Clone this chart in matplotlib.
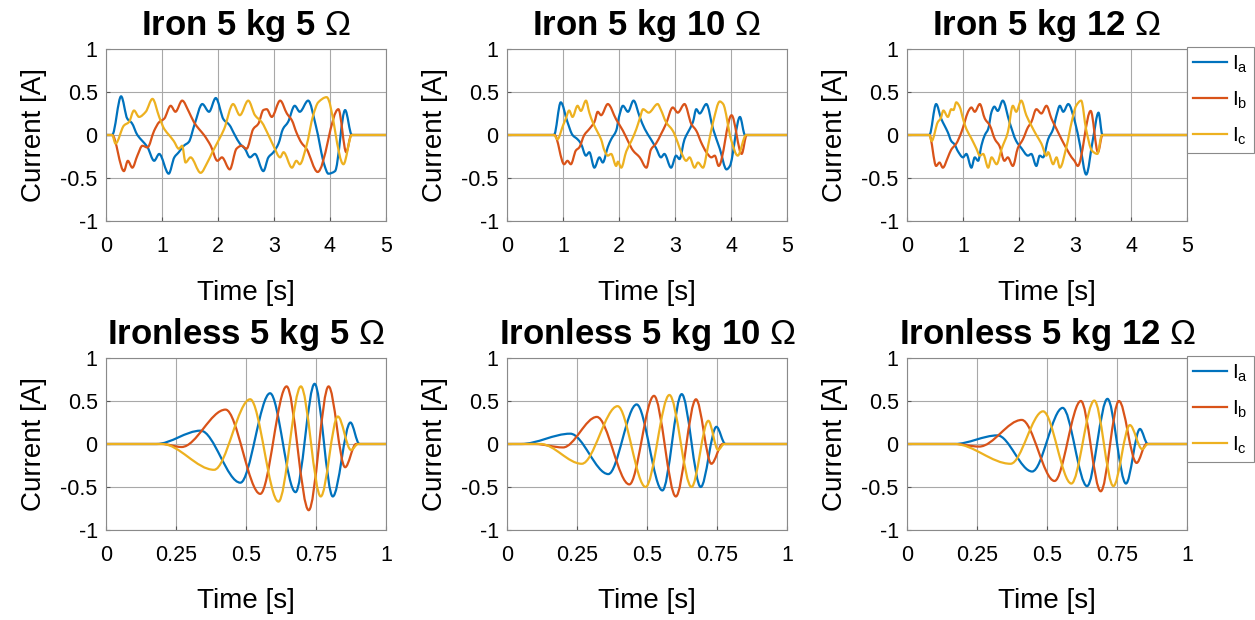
import numpy as np
import matplotlib
matplotlib.use('Agg')
import matplotlib.pyplot as plt
from matplotlib.path import Path
from matplotlib.patches import PathPatch
from matplotlib.lines import Line2D

plt.rcParams['font.family'] = ['Liberation Sans', 'DejaVu Sans']
plt.rcParams['mathtext.fontset'] = 'custom'
plt.rcParams['mathtext.rm'] = 'Liberation Sans'
plt.rcParams['mathtext.it'] = 'Liberation Sans:italic'

# ---- phase currents, iron-core machine (time in s, current in A) ----
t_fe5_a = [0, 0.11, 0.27, 0.38, 0.46, 0.56, 0.65, 0.74, 0.86, 0.95, 1.12, 1.22, 1.30, 1.39, 1.48, 1.58, 1.72, 1.84, 1.96, 2.10, 2.20, 2.30, 2.39, 2.48, 2.57, 2.66, 2.81, 2.90, 2.99, 3.08, 3.16, 3.25, 3.37, 3.46, 3.61, 3.75, 3.90, 3.97, 4.09, 4.27, 4.39, 5]
i_fe5_a = [0, 0, 0.45, 0.19, 0.14, 0.0, -0.07, -0.14, -0.30, -0.22, -0.45, -0.26, -0.20, -0.125, -0.08, 0.12, 0.36, 0.27, 0.43, 0.18, 0.12, 0.0, -0.10, -0.16, -0.26, -0.22, -0.42, -0.26, -0.20, -0.10, 0.07, 0.15, 0.34, 0.27, 0.40, 0.10, -0.35, -0.45, -0.42, 0.29, 0, 0]
t_fe5_b = [0, 0.11, 0.32, 0.39, 0.47, 0.56, 0.65, 0.74, 0.86, 0.95, 1.04, 1.155, 1.24, 1.36, 1.48, 1.57, 1.66, 1.75, 1.87, 1.99, 2.07, 2.21, 2.33, 2.42, 2.51, 2.63, 2.72, 2.81, 2.87, 2.96, 3.11, 3.23, 3.32, 3.40, 3.49, 3.58, 3.78, 4.15, 4.29, 4.38, 5]
i_fe5_b = [0, 0, -0.42, -0.30, -0.38, -0.24, -0.125, -0.145, 0.05, 0.15, 0.19, 0.34, 0.27, 0.40, 0.27, 0.15, 0.07, 0.0, -0.125, -0.30, -0.26, -0.40, -0.16, -0.125, -0.16, 0.07, 0.13, 0.29, 0.30, 0.21, 0.40, 0.25, 0.17, 0.03, -0.09, -0.16, -0.43, 0.30, -0.20, 0, 0]
t_fe5_c = [0, 0.11, 0.17, 0.32, 0.41, 0.50, 0.59, 0.71, 0.83, 0.95, 1.04, 1.125, 1.21, 1.30, 1.36, 1.42, 1.51, 1.69, 1.81, 1.90, 2.02, 2.11, 2.27, 2.39, 2.54, 2.66, 2.78, 2.90, 2.99, 3.11, 3.17, 3.32, 3.40, 3.46, 3.58, 3.70, 3.79, 3.94, 4.24, 4.39, 5]
i_fe5_c = [0, 0, -0.10, 0.11, 0.15, 0.285, 0.21, 0.27, 0.42, 0.21, 0.07, 0.0, -0.07, -0.16, -0.125, -0.32, -0.26, -0.44, -0.32, -0.20, -0.05, 0.07, 0.36, 0.23, 0.40, 0.23, 0.15, 0.0, -0.125, -0.26, -0.20, -0.38, -0.30, -0.34, -0.125, 0.23, 0.38, 0.44, -0.34, 0, 0]

t_fe10_a = [0, 0.84, 0.96, 1.08, 1.17, 1.26, 1.32, 1.41, 1.47, 1.56, 1.65, 1.71, 1.80, 1.86, 1.95, 2.00, 2.07, 2.16, 2.26, 2.37, 2.46, 2.57, 2.66, 2.75, 2.81, 2.93, 3.02, 3.08, 3.17, 3.23, 3.32, 3.38, 3.44, 3.56, 3.68, 3.80, 3.92, 3.98, 4.16, 4.25, 5]
i_fe10_a = [0, 0, 0.38, 0.15, 0.0, -0.05, -0.10, -0.24, -0.20, -0.38, -0.26, -0.32, -0.14, -0.05, 0.05, 0.21, 0.34, 0.27, 0.40, 0.21, 0.07, -0.05, -0.15, -0.26, -0.22, -0.38, -0.24, -0.28, -0.05, 0.03, 0.15, 0.30, 0.25, 0.36, 0.07, -0.16, -0.40, -0.36, 0.21, 0, 0]
t_fe10_b = [0, 0.85, 1.02, 1.08, 1.14, 1.23, 1.29, 1.38, 1.47, 1.56, 1.62, 1.68, 1.80, 1.95, 2.07, 2.16, 2.25, 2.37, 2.49, 2.57, 2.66, 2.75, 2.84, 2.96, 3.05, 3.17, 3.29, 3.38, 3.47, 3.56, 3.65, 3.71, 3.78, 4.01, 4.19, 4.28, 5]
i_fe10_b = [0, 0, -0.34, -0.30, -0.34, -0.18, -0.145, 0.0, 0.07, 0.15, 0.27, 0.23, 0.36, 0.18, 0.05, -0.07, -0.18, -0.26, -0.38, -0.17, -0.10, 0.01, 0.13, 0.32, 0.26, 0.36, 0.13, 0.05, -0.09, -0.20, -0.26, -0.24, -0.36, 0.23, -0.22, 0, 0]
t_fe10_c = [0, 0.84, 0.90, 1.00, 1.05, 1.11, 1.17, 1.26, 1.32, 1.41, 1.47, 1.53, 1.62, 1.68, 1.74, 1.80, 1.86, 1.95, 1.98, 2.04, 2.13, 2.22, 2.31, 2.37, 2.43, 2.53, 2.69, 2.75, 2.84, 2.96, 3.05, 3.11, 3.20, 3.26, 3.35, 3.41, 3.50, 3.59, 3.68, 3.80, 3.86, 4.00, 4.12, 4.27, 5]
i_fe10_c = [0, 0, -0.05, 0.11, 0.19, 0.285, 0.21, 0.34, 0.28, 0.40, 0.26, 0.15, 0.03, -0.05, -0.18, -0.24, -0.22, -0.36, -0.31, -0.38, -0.19, -0.07, 0.07, 0.19, 0.30, 0.26, 0.36, 0.29, 0.15, 0.05, -0.09, -0.20, -0.30, -0.26, -0.38, -0.32, -0.38, -0.13, 0.15, 0.39, 0.36, -0.05, -0.24, 0, 0]

t_fe12_a = [0, 0.40, 0.52, 0.61, 0.67, 0.73, 0.79, 0.85, 0.91, 1.00, 1.06, 1.15, 1.21, 1.27, 1.33, 1.39, 1.45, 1.51, 1.56, 1.62, 1.71, 1.83, 1.95, 2.04, 2.16, 2.22, 2.31, 2.37, 2.43, 2.52, 2.61, 2.67, 2.73, 2.79, 2.88, 3.00, 3.09, 3.20, 3.32, 3.42, 3.49, 5]
i_fe12_a = [0, 0, 0.36, 0.19, 0.11, 0.03, -0.07, -0.11, -0.19, -0.26, -0.22, -0.38, -0.26, -0.30, -0.12, 0.0, 0.07, 0.27, 0.33, 0.28, 0.40, 0.15, -0.07, -0.15, -0.24, -0.22, -0.36, -0.24, -0.26, -0.05, 0.07, 0.23, 0.34, 0.27, 0.36, 0.15, -0.12, -0.46, -0.05, 0.26, 0, 0]
t_fe12_b = [0, 0.40, 0.52, 0.58, 0.64, 0.73, 0.79, 0.88, 0.97, 1.03, 1.09, 1.15, 1.21, 1.30, 1.39, 1.48, 1.57, 1.65, 1.74, 1.80, 1.89, 1.98, 2.07, 2.16, 2.22, 2.31, 2.40, 2.49, 2.58, 2.67, 2.76, 2.85, 2.94, 2.99, 3.05, 3.28, 3.41, 3.49, 5]
i_fe12_b = [0, 0, -0.36, -0.32, -0.38, -0.26, -0.17, -0.10, 0.03, 0.15, 0.27, 0.32, 0.27, 0.36, 0.19, 0.11, -0.05, -0.125, -0.30, -0.26, -0.36, -0.15, -0.05, 0.09, 0.15, 0.30, 0.25, 0.34, 0.19, 0.07, -0.05, -0.16, -0.26, -0.30, -0.36, 0.28, -0.20, 0, 0]
t_fe12_c = [0, 0.40, 0.44, 0.55, 0.60, 0.65, 0.73, 0.79, 0.83, 0.88, 0.94, 1.00, 1.06, 1.15, 1.24, 1.30, 1.36, 1.45, 1.51, 1.60, 1.69, 1.80, 1.89, 1.95, 2.04, 2.13, 2.22, 2.31, 2.40, 2.49, 2.52, 2.61, 2.67, 2.73, 2.85, 2.94, 3.02, 3.11, 3.20, 3.30, 3.40, 3.48, 5]
i_fe12_c = [0, 0, -0.07, 0.15, 0.19, 0.285, 0.21, 0.30, 0.29, 0.38, 0.33, 0.19, 0.07, -0.04, -0.16, -0.24, -0.22, -0.38, -0.26, -0.34, -0.16, 0.03, 0.34, 0.27, 0.40, 0.23, 0.11, 0.0, -0.10, -0.24, -0.20, -0.34, -0.26, -0.38, -0.13, 0.15, 0.34, 0.40, 0.06, -0.18, -0.22, 0, 0]

# ---- phase currents, ironless machine (local peaks only) ----
t_air5_a = [0, 0.18, 0.338, 0.48, 0.586, 0.677, 0.745, 0.81, 0.873, 0.905, 1]
i_air5_a = [0, 0, 0.155, -0.45, 0.59, -0.56, 0.70, -0.61, 0.25, 0, 0]
t_air5_b = [0, 0.20, 0.27, 0.427, 0.551, 0.645, 0.724, 0.795, 0.854, 0.893, 1]
i_air5_b = [0, 0, -0.035, 0.40, -0.58, 0.67, -0.77, 0.67, -0.27, 0, 0]
t_air5_c = [0, 0.20, 0.386, 0.515, 0.616, 0.696, 0.767, 0.828, 0.875, 0.90, 1]
i_air5_c = [0, 0, -0.30, 0.52, -0.67, 0.67, -0.61, 0.32, -0.07, 0, 0]

t_air10_a = [0, 0.05, 0.226, 0.362, 0.463, 0.555, 0.624, 0.692, 0.748, 0.78, 1]
i_air10_a = [0, 0, 0.12, -0.35, 0.46, -0.54, 0.58, -0.50, 0.20, 0, 0]
t_air10_b = [0, 0.10, 0.20, 0.321, 0.437, 0.525, 0.603, 0.675, 0.730, 0.77, 1]
i_air10_b = [0, 0, -0.04, 0.315, -0.47, 0.56, -0.61, 0.52, -0.23, 0, 0]
t_air10_c = [0, 0.12, 0.267, 0.395, 0.495, 0.58, 0.659, 0.719, 0.754, 0.775, 1]
i_air10_c = [0, 0, -0.23, 0.44, -0.50, 0.57, -0.50, 0.27, -0.07, 0, 0]

t_air12_a = [0, 0.17, 0.323, 0.447, 0.556, 0.643, 0.716, 0.782, 0.832, 0.86, 1]
i_air12_a = [0, 0, 0.10, -0.32, 0.42, -0.49, 0.525, -0.46, 0.175, 0, 0]
t_air12_b = [0, 0.17, 0.258, 0.41, 0.527, 0.621, 0.692, 0.757, 0.82, 0.855, 1]
i_air12_b = [0, 0, -0.03, 0.28, -0.43, 0.50, -0.55, 0.50, -0.22, 0, 0]
t_air12_c = [0, 0.17, 0.37, 0.486, 0.587, 0.669, 0.737, 0.796, 0.84, 0.86, 1]
i_air12_c = [0, 0, -0.23, 0.38, -0.46, 0.505, -0.49, 0.22, -0.06, 0, 0]

titles = ['Iron 5 kg 5 $\\Omega$', 'Iron 5 kg 10 $\\Omega$', 'Iron 5 kg 12 $\\Omega$',
          'Ironless 5 kg 5 $\\Omega$', 'Ironless 5 kg 10 $\\Omega$', 'Ironless 5 kg 12 $\\Omega$']
phase_labels = ['$\\mathrm{I_a}$', '$\\mathrm{I_b}$', '$\\mathrm{I_c}$']
colors = ['#0072BD', '#D95319', '#EDB120']

panels = [
    [(t_fe5_a, i_fe5_a), (t_fe5_b, i_fe5_b), (t_fe5_c, i_fe5_c)],
    [(t_fe10_a, i_fe10_a), (t_fe10_b, i_fe10_b), (t_fe10_c, i_fe10_c)],
    [(t_fe12_a, i_fe12_a), (t_fe12_b, i_fe12_b), (t_fe12_c, i_fe12_c)],
    [(t_air5_a, i_air5_a), (t_air5_b, i_air5_b), (t_air5_c, i_air5_c)],
    [(t_air10_a, i_air10_a), (t_air10_b, i_air10_b), (t_air10_c, i_air10_c)],
    [(t_air12_a, i_air12_a), (t_air12_b, i_air12_b), (t_air12_c, i_air12_c)],
]


def smooth_path(t, y):
    # monotone cubic through the samples, drawn as Bezier segments
    t = np.asarray(t, float)
    y = np.asarray(y, float)
    h = np.diff(t)
    s = np.diff(y) / h
    m = np.zeros_like(y)
    for k in range(1, len(y) - 1):
        if s[k - 1] * s[k] > 0:
            m[k] = 2 * s[k - 1] * s[k] / (s[k - 1] + s[k])
    verts = [(t[0], y[0])]
    codes = [Path.MOVETO]
    for k in range(len(h)):
        d = h[k] / 3
        verts += [(t[k] + d, y[k] + m[k] * d),
                  (t[k + 1] - d, y[k + 1] - m[k + 1] * d),
                  (t[k + 1], y[k + 1])]
        codes += [Path.CURVE4] * 3
    return Path(verts, codes)


fig = plt.figure(figsize=(12.55, 6.2), dpi=100)

col_left = [106, 507, 907]
row_bottom = [221, 530]
W, H = 280, 172

for n, curves in enumerate(panels):
    r, c = divmod(n, 3)
    ax = fig.add_axes([col_left[c] / 1255, 1 - row_bottom[r] / 620, W / 1255, H / 620])
    for (t, y), col in zip(curves, colors):
        ax.add_patch(PathPatch(smooth_path(t, y), fill=False, edgecolor=col,
                               lw=1.6, joinstyle='round', capstyle='round'))
    ax.set_ylim(-1, 1)
    ax.set_yticks([-1, -0.5, 0, 0.5, 1])
    ax.set_yticklabels(['-1', '-0.5', '0', '0.5', '1'])
    if r == 0:
        ax.set_xlim(0, 5)
        ax.set_xticks([0, 1, 2, 3, 4, 5])
        ax.set_xticklabels(['0', '1', '2', '3', '4', '5'])
    else:
        ax.set_xlim(0, 1)
        ax.set_xticks([0, 0.25, 0.5, 0.75, 1])
        ax.set_xticklabels(['0', '0.25', '0.5', '0.75', '1'])
    ax.grid(True, color='#a8a8a8', lw=0.8)
    ax.set_axisbelow(True)
    for sp in ax.spines.values():
        sp.set_color('#8a8a8a')
        sp.set_linewidth(0.8)
    ax.tick_params(direction='in', length=3, color='#555555', labelsize=15.5)
    ax.tick_params(axis='x', pad=11)
    ax.tick_params(axis='y', pad=6)
    ax.set_xlabel('Time [s]', fontsize=20, labelpad=16)
    ax.set_ylabel('Current [A]', fontsize=20, labelpad=10)
    ax.set_title(titles[n], fontsize=25, fontweight='bold', pad=10)
    if c == 2:
        handles = [Line2D([], [], color=col, lw=1.6) for col in colors]
        leg = ax.legend(handles, phase_labels, loc='upper left', bbox_to_anchor=(1.0, 1.01),
                        borderaxespad=0, fontsize=15, frameon=True, fancybox=False,
                        edgecolor='#8a8a8a', framealpha=1, handlelength=1.6,
                        handletextpad=0.25, labelspacing=0.7, borderpad=0.3)
        leg.get_frame().set_linewidth(0.8)

fig.savefig('out.png', dpi=100)
